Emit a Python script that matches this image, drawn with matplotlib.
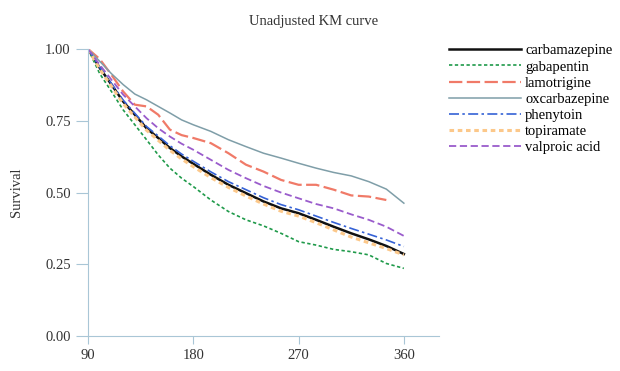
import matplotlib.pyplot as plt

plt.rcParams['font.family'] = ['Liberation Serif', 'DejaVu Serif']

days = [90, 100, 110, 120, 130, 140, 150, 160, 170, 180, 195, 210, 225,
        240, 255, 270, 285, 300, 315, 330, 345, 360]

carbamazepine = [1.0, 0.934, 0.876, 0.817, 0.771, 0.724, 0.690, 0.655, 0.626, 0.600, 0.562,
                 0.527, 0.498, 0.469, 0.445, 0.428, 0.405, 0.381, 0.358, 0.337, 0.314, 0.286]
gabapentin = [1.0, 0.914, 0.852, 0.788, 0.736, 0.684, 0.631, 0.585, 0.550, 0.521, 0.474,
              0.434, 0.405, 0.384, 0.358, 0.329, 0.317, 0.302, 0.294, 0.283, 0.253, 0.236]
lamotrigine = [1.0, 0.965, 0.910, 0.852, 0.806, 0.800, 0.771, 0.719, 0.700, 0.690, 0.672,
               0.637, 0.597, 0.573, 0.544, 0.527, 0.527, 0.510, 0.490, 0.486, 0.474]
oxcarbazepine = [1.0, 0.957, 0.914, 0.876, 0.843, 0.823, 0.800, 0.777, 0.753, 0.736, 0.713,
                 0.684, 0.660, 0.637, 0.620, 0.602, 0.585, 0.570, 0.558, 0.538, 0.512, 0.463]
phenytoin = [1.0, 0.936, 0.880, 0.822, 0.776, 0.730, 0.697, 0.663, 0.634, 0.609, 0.572,
             0.538, 0.510, 0.482, 0.458, 0.440, 0.418, 0.396, 0.375, 0.355, 0.335, 0.312]
topiramate = [1.0, 0.930, 0.870, 0.810, 0.763, 0.717, 0.682, 0.647, 0.617, 0.590, 0.552,
              0.518, 0.488, 0.460, 0.435, 0.418, 0.395, 0.370, 0.345, 0.325, 0.305, 0.283]
valproic = [1.0, 0.945, 0.893, 0.841, 0.800, 0.759, 0.724, 0.695, 0.670, 0.649, 0.614,
            0.579, 0.550, 0.523, 0.500, 0.480, 0.460, 0.445, 0.424, 0.405, 0.381, 0.349]

series = [
    ('carbamazepine', days, carbamazepine, '#111111', '-', 1.8),
    ('gabapentin', days, gabapentin, '#1f9a4a', (0, (2, 1.5)), 1.2),
    ('lamotrigine', days[:len(lamotrigine)], lamotrigine, '#f07a68', (0, (6, 2)), 1.6),
    ('oxcarbazepine', days, oxcarbazepine, '#7f9ea8', '-', 1.1),
    ('phenytoin', days, phenytoin, '#3562d6', (0, (6, 2, 1.5, 2)), 1.2),
    ('topiramate', days, topiramate, '#fcc88a', (0, (1.5, 1.2)), 2.2),
    ('valproic acid', days, valproic, '#9a5ccc', (0, (4, 2)), 1.3),
]

fig = plt.figure(figsize=(6.2, 3.71), dpi=100)
ax = fig.add_axes([0.142, 0.094, 0.566, 0.774])

for name, x, y, c, ls, lw in series:
    ax.plot(x, y, color=c, linestyle=ls, linewidth=lw, label=name)

ax.set_xlim(90, 390)
ax.set_ylim(0, 1)
ax.set_xticks([90, 180, 270, 360])
ax.set_yticks([0, 0.25, 0.5, 0.75, 1.0])
ax.set_yticklabels(['0.00', '0.25', '0.50', '0.75', '1.00'])
for s in ['top', 'right']:
    ax.spines[s].set_visible(False)
for s in ['left', 'bottom']:
    ax.spines[s].set_color('#a9c6d6')
ax.tick_params(axis='y', length=9, color='#a9c6d6', labelsize=10.5, labelcolor='#333333')
ax.tick_params(axis='x', length=6, color='#a9c6d6', labelsize=10.5, labelcolor='#333333')
ax.set_ylabel('Survival', fontsize=10.5, color='#333333', labelpad=16)

fig.suptitle('Unadjusted KM curve', x=0.505, y=0.96, fontsize=10.5, color='#333333')

ax.legend(loc='upper left', bbox_to_anchor=(1.0, 1.052), frameon=False, fontsize=10.5,
          handlelength=4.9, labelspacing=0.2, handletextpad=0.3, borderaxespad=0.3)

fig.savefig('out.png', dpi=100)
